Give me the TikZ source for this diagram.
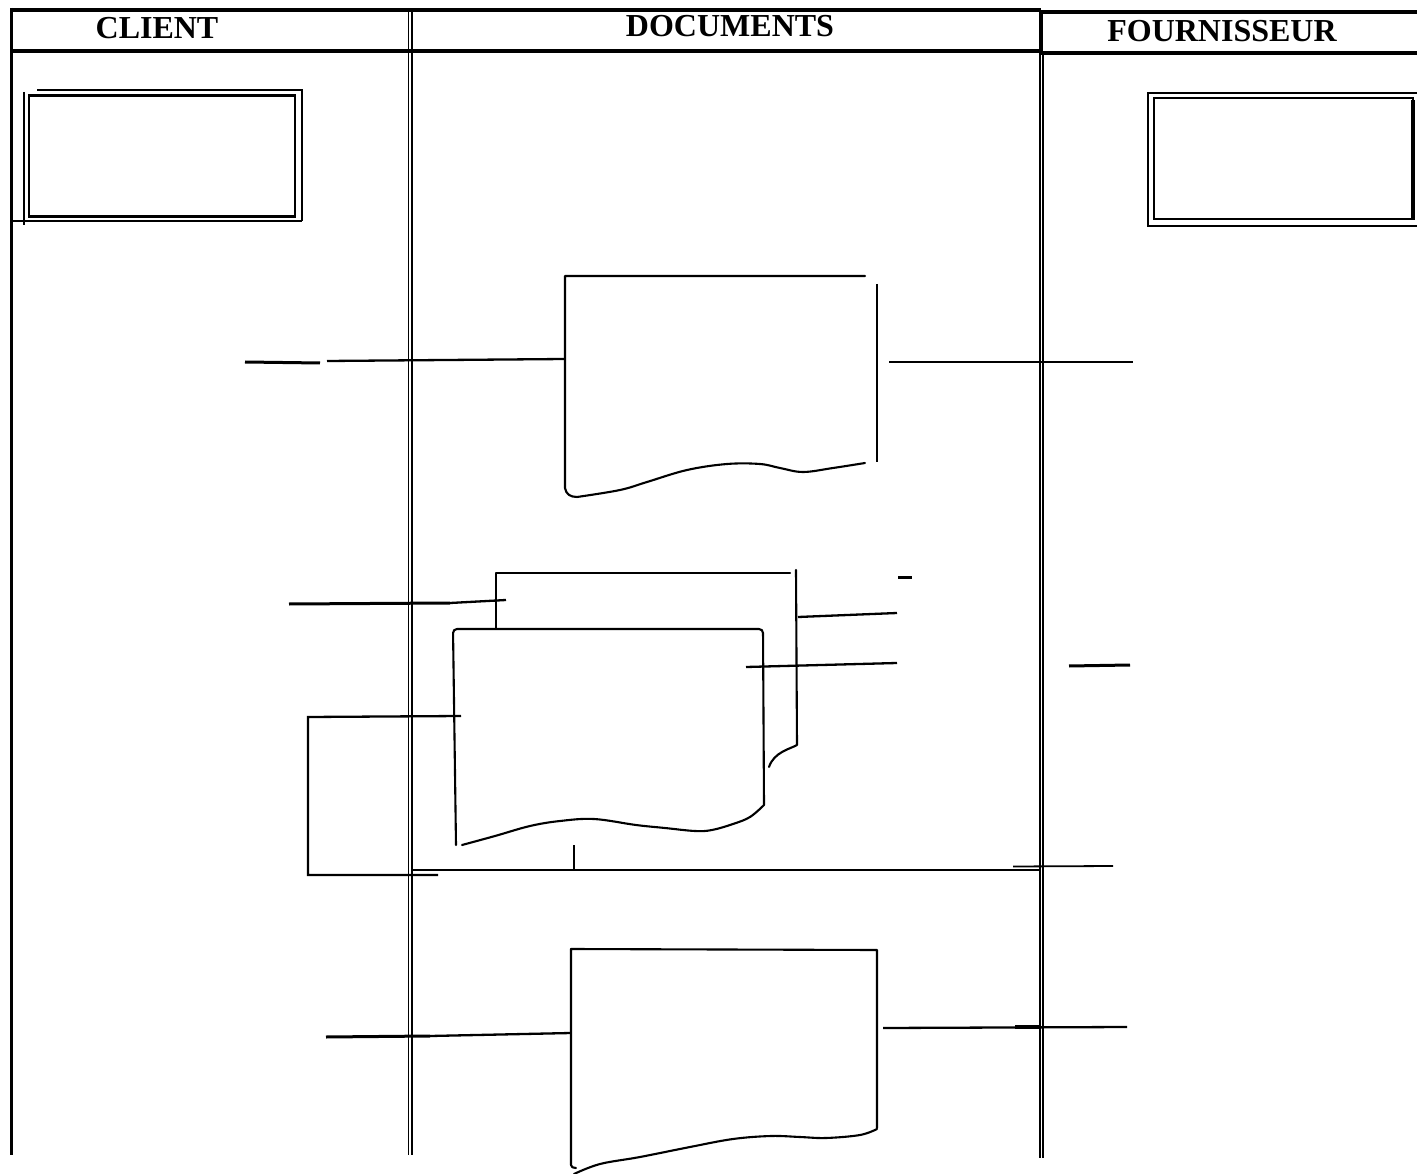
\documentclass[tikz,border=0pt]{standalone}
\usepackage{fontspec}
\setmainfont{Liberation Serif}
\begin{document}
\begin{tikzpicture}[x=1pt,y=-1pt,line cap=butt,
  hdr/.style={font=\fontsize{32}{36}\selectfont\bfseries,anchor=base,inner sep=0pt},
  rulebar/.style={line width=4.2pt},
  divline/.style={line width=1.5pt},
  conn/.style={line width=2.3pt},
  heavyconn/.style={line width=3pt},
  docline/.style={line width=2.1pt,line join=round,line cap=round},
  boxline/.style={line width=2.5pt},
]
\useasboundingbox (0,0) rectangle (1417,1174);
% ---------------- frame and header ----------------
\draw[rulebar] (10,10) -- (1041,10);
\draw[rulebar] (1041,12) -- (1417,12);
\draw[rulebar] (10,51) -- (1041,51);
\draw[rulebar] (1041,53) -- (1417,53);
\draw[line width=3.2pt] (11.5,8) -- (11.5,1155);
\draw[divline] (408.5,10) -- (408.5,1155);
\draw[divline] (412,10) -- (412,1155);
\draw[line width=4.2pt] (1041,12) -- (1041,53);
\draw[divline] (1040,53) -- (1040,1158);
\draw[line width=2pt] (1043,53) -- (1043,1158);
\node[hdr] (hclient) at (157,39) {CLIENT};
\node[hdr] (hdocs) at (730,37) {DOCUMENTS};
\node[hdr] (hfour) at (1222,42) {FOURNISSEUR};
% ---------------- client box ----------------
\node[draw,boxline,inner sep=0pt,minimum width=266pt,minimum height=121pt] (clientbox) at (162,156) {};
\draw[boxline] (37,90) -- (302,90) -- (302,221);
\draw[boxline] (12,221) -- (302,221);
\draw[boxline] (24,92) -- (24,225);
% ---------------- fournisseur box ----------------
\node[draw,boxline,inner sep=0pt,minimum width=259pt,minimum height=121pt] (fourbox) at (1283.5,158.5) {};
\draw[boxline] (1417,93) -- (1148,93) -- (1148,226) -- (1417,226);
\draw[line width=3.5pt] (1413,100) -- (1413,220);
% ---------------- document 1 ----------------
\draw[docline] (865,276) -- (565,276) -- (565,488) .. controls (566,494) and (570,497) .. (577,497);
\draw[docline] plot[smooth,tension=0.6] coordinates {(577,497) (620,490) (647,482) (687,470) (727,464) (760,464) (780,468) (803,472) (833,468) (865,463)};
\draw[line width=2.4pt] (877,284) -- (877,462);
\coordinate (d1L) at (565,359);
\coordinate (d1R) at (889,362);
\coordinate (c1) at (327,361);
\coordinate (c1a) at (245,362);
\coordinate (c1b) at (320,363);
\coordinate (f1) at (1133,362);
\draw[conn] (c1) -- (d1L);
\draw[conn] (d1R) -- (f1);
\draw[heavyconn] (c1a) -- (c1b);
% ---------------- document 2 (back) ----------------
\draw[docline] (790,573) -- (496,573) -- (496,628);
\draw[docline] (796,570) -- (797,745) .. controls (790,749) and (774,752) .. (769,767);
% ---------------- document 2 (front) ----------------
\draw[docline,rounded corners=4pt] (456,845) -- (453,629) -- (763,629) -- (764,805);
\draw[docline] plot[smooth,tension=0.6] coordinates {(764,805) (750,817) (733,824) (712,830) (695,831) (665,828) (636,825) (594,819) (560,821) (530,826) (495,836) (462,845)};
% connectors around document 2
\coordinate (c2) at (289,604);
\coordinate (c2m) at (450,603);
\coordinate (d2bL) at (506,600);
\draw[heavyconn] (c2) -- (c2m);
\draw[conn] (c2m) -- (d2bL);
\coordinate (d2bR) at (798,617);
\coordinate (e2a) at (897,613);
\draw[conn] (d2bR) -- (e2a);
\coordinate (t2a) at (898,577);
\coordinate (t2b) at (912,577);
\draw[heavyconn] (t2a) -- (t2b);
\coordinate (d2fR) at (746,667);
\coordinate (e2b) at (897,663);
\draw[conn] (d2fR) -- (e2b);
\coordinate (f2a) at (1069,666);
\coordinate (f2b) at (1130,665);
\draw[heavyconn] (f2a) -- (f2b);
\coordinate (d2fL) at (461,716);
\coordinate (k1) at (308,717);
\coordinate (k2) at (308,875);
\coordinate (k3) at (438,875);
\draw[conn] (d2fL) -- (k1) -- (k2) -- (k3);
\coordinate (h1) at (413,870);
\coordinate (h2) at (1040,870);
\draw[line width=2.6pt] (h1) -- (h2);
\coordinate (h3) at (1013,866.5);
\coordinate (h4) at (1113,866);
\draw[line width=1.8pt] (h3) -- (h4);
\coordinate (tk1) at (574,845);
\coordinate (tk2) at (574,870);
\draw[line width=1.8pt] (tk1) -- (tk2);
% ---------------- document 3 ----------------
\draw[docline] (877,1128) -- (877,950) -- (571,949) -- (571,1165) .. controls (571,1167) and (573,1168) .. (576,1168);
\draw[docline] plot[smooth,tension=0.6] coordinates {(574,1174) (600,1164) (640,1157) (690,1147) (733,1139) (771,1136) (800,1137) (826,1138) (860,1135) (877,1129)};
\coordinate (c3) at (326,1037);
\coordinate (c3m) at (430,1036);
\coordinate (d3L) at (571,1033);
\draw[heavyconn] (c3) -- (c3m);
\draw[conn] (c3m) -- (d3L);
\coordinate (d3R) at (883,1028);
\coordinate (f3) at (1127,1027);
\draw[conn] (d3R) -- (f3);
\coordinate (f3a) at (1015,1027);
\coordinate (f3b) at (1040,1027);
\draw[line width=3.2pt] (f3a) -- (f3b);
\end{tikzpicture}
\end{document}
